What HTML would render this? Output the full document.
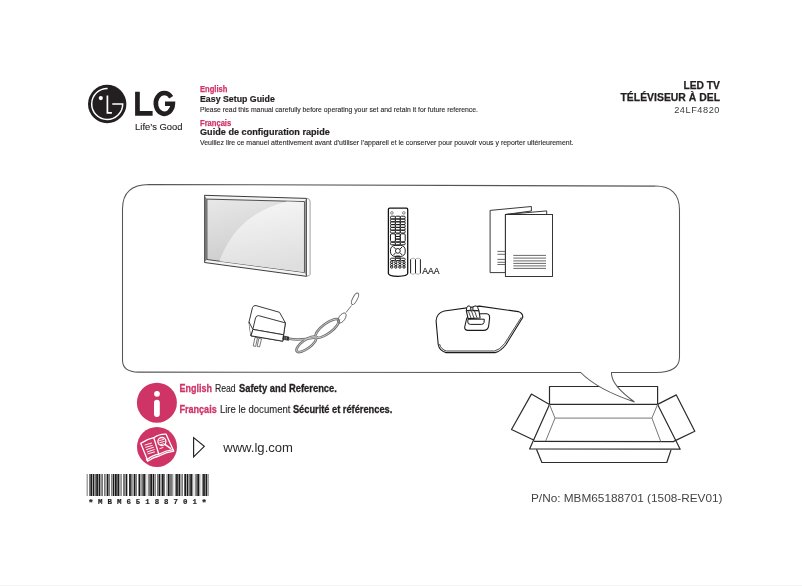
<!DOCTYPE html>
<html><head><meta charset="utf-8">
<style>
html,body{margin:0;padding:0;background:#fff;width:802px;height:586px;overflow:hidden}
svg{display:block;position:absolute;left:0;top:0;will-change:transform}
svg{font-family:"Liberation Sans",sans-serif}
</style></head><body>
<svg width="802" height="586" viewBox="0 0 802 586">
<rect x="0" y="585" width="802" height="1" fill="#f1f2f2"/>
<!-- LG logo -->
<g id="logo">
<circle cx="107.2" cy="104" r="19.2" fill="#231f20"/>
<path d="M107.6 88.5 A15.5 15.5 0 1 0 122.7 104 L112.3 104" fill="none" stroke="#fff" stroke-width="1.5"/>
<path d="M107.4 95.4 V112.8 H111.9" fill="none" stroke="#fff" stroke-width="1.7"/>
<circle cx="100.8" cy="98.1" r="2.1" fill="#fff"/>
<path d="M135.1 91.8 H139.8 V111 H152.6 V115.7 H135.1 Z" fill="#231f20"/>
<path d="M171.2 97.2 A8.55 10.35 0 1 0 172.9 103.8 H165" fill="none" stroke="#231f20" stroke-width="4.6" stroke-linejoin="miter"/>
<text x="135.1" y="130.2" font-size="9" fill="#231f20" stroke="#231f20" stroke-width="0.12" textLength="47.4" lengthAdjust="spacingAndGlyphs">Life’s Good</text>
</g>
<!-- header text -->
<text x="200" y="91.85" font-size="8.9" font-weight="bold" fill="#cf3467" stroke="#cf3467" stroke-width="0.25" textLength="27.4" lengthAdjust="spacingAndGlyphs">English</text>
<text x="200" y="101.8" font-size="9.2" font-weight="bold" fill="#231f20" stroke="#231f20" stroke-width="0.2" textLength="74.8" lengthAdjust="spacingAndGlyphs">Easy Setup Guide</text>
<text x="200" y="111.6" font-size="7.1" fill="#231f20" stroke="#231f20" stroke-width="0.1" textLength="278" lengthAdjust="spacingAndGlyphs">Please read this manual carefully before operating your set and retain it for future reference.</text>
<text x="200" y="125.7" font-size="8.9" font-weight="bold" fill="#cf3467" stroke="#cf3467" stroke-width="0.25" textLength="31.2" lengthAdjust="spacingAndGlyphs">Français</text>
<text x="200" y="134.6" font-size="9.2" font-weight="bold" fill="#231f20" stroke="#231f20" stroke-width="0.2" textLength="129.8" lengthAdjust="spacingAndGlyphs">Guide de configuration rapide</text>
<text x="200" y="144.5" font-size="7.1" fill="#231f20" stroke="#231f20" stroke-width="0.1" textLength="373.5" lengthAdjust="spacingAndGlyphs">Veuillez lire ce manuel attentivement avant d’utiliser l’appareil et le conserver pour pouvoir vous y reporter ultérieurement.</text>
<text x="720" y="88.7" font-size="10.3" font-weight="bold" fill="#231f20" stroke="#231f20" stroke-width="0.25" text-anchor="end">LED TV</text>
<text x="620.5" y="100.8" font-size="10.3" font-weight="bold" fill="#231f20" stroke="#231f20" stroke-width="0.25" textLength="99.5" lengthAdjust="spacingAndGlyphs">TÉLÉVISEUR À DEL</text>
<text x="674.2" y="112.7" font-size="8.2" fill="#3a3a3a" letter-spacing="0.5" textLength="45.8" lengthAdjust="spacingAndGlyphs">24LF4820</text>
<!-- box -->
<g fill="none" stroke="#2b2b2b" stroke-width="1.2" stroke-linejoin="round">
<polyline points="549.5,404.4 549.5,386.5 657.6,386.5 657.6,404.4"/>
<line x1="549.5" y1="404.4" x2="657.6" y2="404.4"/>
<polyline points="549.5,404.4 531.4,394.1 511.5,429.5 534.2,440.2"/>
<polyline points="657.6,404.4 676.3,394.9 694.8,431.2 673.7,441.4"/>
<polyline points="549.5,404.4 529.6,448.9 680.2,449.2 657.6,404.4"/>
<line x1="534" y1="441.4" x2="674" y2="441.6"/>
<polyline points="536.5,449.2 541.9,462.5 666.8,462.5 671,450"/>
</g>
<g fill="none" stroke="#777" stroke-width="1">
<polyline points="549.5,404.4 555,418.1 545.7,441"/>
<polyline points="657.6,404.4 651.9,418.1 660.7,441.4"/>
<line x1="555" y1="418.1" x2="651.9" y2="418.1"/>
</g>
<!-- bubble -->
<path d="M149 184.4 L655 186.1 Q679.5 186 679.5 210 L679.5 357 Q679.5 372.5 656 372.5 L611.5 372.5 Q610.7 385 634.5 402 C608 393 590 382 580.7 372.5 L138.5 372.1 Q122.5 372.1 122.5 360 L122.5 209 Q122.5 184.4 149 184.4 Z" fill="#fff" stroke="#555" stroke-width="1.05"/>
<!-- TV -->
<defs>
<linearGradient id="scrL" x1="0" y1="0" x2="0.3" y2="1">
<stop offset="0" stop-color="#e8e8e8"/><stop offset="1" stop-color="#c9c9c9"/>
</linearGradient>
<linearGradient id="scrR" x1="0.3" y1="0" x2="0.5" y2="1">
<stop offset="0" stop-color="#f6f6f6"/><stop offset="1" stop-color="#dedede"/>
</linearGradient>
</defs>
<path d="M306.4 198.4 L308 198.7 Q310.1 199.3 310.1 201.5 L310.1 274.3 Q310 275.9 306.4 276.3 Z" fill="#fbfbfb" stroke="#888" stroke-width="0.8"/>
<path d="M204.5 195.3 L306.4 198.4 L306.4 276.3 L204.5 262.5 Z" fill="#f4f4f4" stroke="#333" stroke-width="0.95"/>
<path d="M304.3 201.5 L306.2 199 L306.2 275.6 L304.3 272.4 Z" fill="#9a9a9a" stroke="none"/>
<path d="M206.9 199.1 L304.3 201.6 L304.3 272.4 L206.9 259.5 Z" fill="url(#scrL)" stroke="#3c3c3c" stroke-width="0.9"/>
<path d="M287 201.4 Q236 214 219.5 261.2 L303.9 272.2 L303.9 201.9 Z" fill="url(#scrR)"/>
<path d="M204.5 195.6 L206.9 199.1 L206.9 259.5 L204.5 262.2 Z" fill="#777" stroke="none"/>
<!-- remote -->
<path d="M388.4 209.2 Q388.4 208.2 389.6 208.2 L406.5 208.2 Q407.7 208.2 407.7 209.4 L407.7 273.5 Q407.6 275.9 398 276.4 Q388.4 275.9 388.4 273.5 Z" fill="#fff" stroke="#151515" stroke-width="1.3"/>
<g fill="none" stroke="#151515" stroke-width="0.95">
<circle cx="391.9" cy="212.9" r="1.3" stroke="#777"/><circle cx="403.8" cy="212.9" r="1.3" stroke="#777"/>
<rect x="390.5" y="216.2" width="4.9" height="2.8" rx="1.1"/>
<rect x="395.4" y="216.2" width="4.9" height="2.8" rx="1.1"/>
<rect x="400.3" y="216.2" width="4.9" height="2.8" rx="1.1"/>
<rect x="390.5" y="219.0" width="4.9" height="2.8" rx="1.1"/>
<rect x="395.4" y="219.0" width="4.9" height="2.8" rx="1.1"/>
<rect x="400.3" y="219.0" width="4.9" height="2.8" rx="1.1"/>
<rect x="390.5" y="221.8" width="4.9" height="2.8" rx="1.1"/>
<rect x="395.4" y="221.8" width="4.9" height="2.8" rx="1.1"/>
<rect x="400.3" y="221.8" width="4.9" height="2.8" rx="1.1"/>
<rect x="390.5" y="224.6" width="4.9" height="2.8" rx="1.1"/>
<rect x="395.4" y="224.6" width="4.9" height="2.8" rx="1.1"/>
<rect x="400.3" y="224.6" width="4.9" height="2.8" rx="1.1"/>
<rect x="390.5" y="227.4" width="4.9" height="2.8" rx="1.1"/>
<rect x="395.4" y="227.4" width="4.9" height="2.8" rx="1.1"/>
<rect x="400.3" y="227.4" width="4.9" height="2.8" rx="1.1"/>
<rect x="390.5" y="230.2" width="4.9" height="2.8" rx="1.1"/>
<rect x="395.4" y="230.2" width="4.9" height="2.8" rx="1.1"/>
<rect x="400.3" y="230.2" width="4.9" height="2.8" rx="1.1"/>
<rect x="390.5" y="233.8" width="4.9" height="8" rx="1.2"/>
<rect x="400.3" y="233.8" width="4.9" height="8" rx="1.2"/>
<rect x="395.4" y="233.8" width="4.9" height="2.65" rx="1"/>
<rect x="395.4" y="236.5" width="4.9" height="2.65" rx="1"/>
<rect x="395.4" y="239.1" width="4.9" height="2.65" rx="1"/>
<rect x="390.5" y="242.3" width="4.9" height="2.5" rx="1"/>
<rect x="395.4" y="242.3" width="4.9" height="2.5" rx="1"/>
<rect x="400.3" y="242.3" width="4.9" height="2.5" rx="1"/>
<rect x="390.5" y="245.4" width="14.7" height="11" rx="4.5"/>
<circle cx="397.85" cy="250.9" r="2.4"/>
<path d="M393.5 246.8 L395.6 249 M402.2 246.8 L400.1 249 M393.5 255 L395.6 252.8 M402.2 255 L400.1 252.8"/>
<rect x="395.4" y="256.1" width="4.9" height="2" rx="0.9"/>
<rect x="390.5" y="258.2" width="4.9" height="2.3" rx="1"/>
<rect x="395.4" y="258.2" width="4.9" height="2.3" rx="1"/>
<rect x="400.3" y="258.2" width="4.9" height="2.3" rx="1"/>
<circle cx="391.7" cy="262.2" r="1.2"/>
<circle cx="395.8" cy="262.2" r="1.2"/>
<circle cx="399.9" cy="262.2" r="1.2"/>
<circle cx="404.0" cy="262.2" r="1.2"/>
<circle cx="391.7" cy="264.6" r="1.2"/>
<circle cx="395.8" cy="264.6" r="1.2"/>
<circle cx="399.9" cy="264.6" r="1.2"/>
<circle cx="404.0" cy="264.6" r="1.2"/>
<circle cx="391.7" cy="267.0" r="1.2"/>
<circle cx="395.8" cy="267.0" r="1.2"/>
<circle cx="399.9" cy="267.0" r="1.2"/>
<circle cx="404.0" cy="267.0" r="1.2"/>
</g>
<!-- batteries -->
<g fill="none" stroke-width="0.9">
<path d="M410.6 259.5 Q411 258.2 413 258.2 Q415 258.2 415.4 259.5 Q415.8 258.2 418 258.2 Q420 258.2 420.4 259.5" stroke="#aaa"/>
<path d="M410.6 273 Q411 274.2 413 274.2 Q415 274.2 415.4 273 Q415.8 274.2 418 274.2 Q420 274.2 420.4 273" stroke="#aaa"/>
<path d="M410.6 259.3 V273.2 M415.5 259.3 V273.2 M420.4 259.3 V273.2" stroke="#222" stroke-width="1"/>
</g>
<text x="422.2" y="273.7" font-size="9.6" fill="#231f20" stroke="#231f20" stroke-width="0.2" textLength="17.2" lengthAdjust="spacingAndGlyphs">AAA</text>
<!-- booklets -->
<g fill="#fff" stroke="#222" stroke-width="0.9" stroke-linejoin="miter">
<path d="M490.1 210.4 L531.4 206.5 L531.4 211 L505.4 214.5 L505.4 272.6 L490.1 272.6 Z"/>
<path d="M505.4 214.5 L546.7 210.9 L546.7 214.5 Z"/>
<rect x="505.4" y="214.5" width="47.1" height="62"/>
</g>
<g stroke="#444" stroke-width="0.8">
<line x1="497.4" y1="251.4" x2="505.4" y2="251.4"/>
<line x1="497.4" y1="254.3" x2="505.4" y2="254.3"/>
<line x1="497.4" y1="259.4" x2="505.4" y2="259.4"/>
<line x1="497.4" y1="262.3" x2="505.4" y2="262.3"/>
<line x1="497.4" y1="264.5" x2="505.4" y2="264.5"/>
<line x1="513.3" y1="255.4" x2="546" y2="255.4"/>
<line x1="513.3" y1="258.1" x2="546" y2="258.1"/>
<line x1="513.3" y1="260.9" x2="546" y2="260.9"/>
<line x1="513.3" y1="263.4" x2="546" y2="263.4"/>
<line x1="513.3" y1="265.9" x2="546" y2="265.9"/>
<line x1="513.3" y1="268.4" x2="546" y2="268.4"/>
</g>
<!-- adapter -->
<g fill="#fff" stroke="#222" stroke-width="0.9" stroke-linejoin="round">
<path d="M255 337.4 L257.5 337.9 L255.6 346.4 L253.2 345.9 Z M258.8 338.3 L261.5 338.8 L259.6 346.9 L257.2 346.4 Z" stroke="#555" stroke-width="0.8"/>
<path d="M249 322 L252.5 307.5 Q253.5 305 256 305.6 L279.5 312.3 L285.4 322.9 L283.6 334.8 L282.8 341.2 L250.9 335.8 Z"/>
<path d="M255.5 318 Q256.2 315.6 258.5 315.6 L285.4 322.9 L283.6 334.8 L252.8 329.4 Z"/>
<path d="M252.8 329.4 L283.6 334.8 L282.8 341.2 L250.9 335.8 Z"/>
<path d="M249 322 L252.8 329.4 L250.9 335.8"/>
<path d="M283.4 336 L289 337.2 L288.6 340.2 L282.9 339.3 Z" fill="#333"/>
<path d="M285 336.5 L284.6 339.6 M286.6 336.8 L286.2 339.9" stroke="#bbb" stroke-width="0.5"/>
</g>
<!-- cord -->
<g fill="none" stroke="#707070" stroke-width="2.6">
<path d="M289 338.8 C296 340, 303 340, 315 337.5"/>
<ellipse cx="327.2" cy="328.4" rx="14" ry="4.9" transform="rotate(-37 327.2 328.4)"/>
<ellipse cx="306.3" cy="344.3" rx="11.8" ry="4.3" transform="rotate(-36 306.3 344.3)"/>
</g>
<g fill="none" stroke="#d4d4d4" stroke-width="0.8">
<path d="M289 338.8 C296 340, 303 340, 315 337.5"/>
<ellipse cx="327.2" cy="328.4" rx="14" ry="4.9" transform="rotate(-37 327.2 328.4)"/>
<ellipse cx="306.3" cy="344.3" rx="11.8" ry="4.3" transform="rotate(-36 306.3 344.3)"/>
</g>
<g fill="none" stroke="#666" stroke-width="0.9">
<path d="M338.5 321.2 L340 319.5 M346 312.5 L351.5 305.5"/>
<ellipse cx="342" cy="318" rx="5.8" ry="3" transform="rotate(-55 342 318)"/>
<ellipse cx="355" cy="298.8" rx="6.3" ry="2.3" transform="rotate(-62 355 298.8)"/>
</g>
<!-- stand -->
<g fill="#fff" stroke="#1a1a1a" stroke-linejoin="round">
<path d="M444.3 311 L479.4 306.1 L518.2 311.6 Q523.3 313.5 522.7 317.5 L506 344.5 Q500.5 351.6 495 352.6 L446 352.6 Q439.5 351 438.2 344.5 L436.1 321 Q436.5 313 444.3 311 Z" stroke-width="1.1"/>
<path d="M521.3 317.3 L504.6 343.6 Q499.5 350.2 494.5 351 L446.5 351 Q441 349.6 439.5 344" stroke-width="0.8" fill="none"/>
<path d="M466.8 318 L480.8 313.7 L486.8 313.7 Q489.8 314 489.6 318 L488.7 325.8 Q488 330.4 483.5 330.4 L468 330.4 Q464.5 330.3 464.7 327 Z" stroke-width="1.1"/>
<path d="M468 319.2 L484.3 319.2 L484 322.6 Q483.5 324.4 481.5 324.4 L470.5 324.4 Q467.6 324.3 467.8 322 Z" stroke-width="1"/>
<path d="M466.3 310.7 L468.1 318.6 L480.1 318 L478.9 310.7 Z" stroke-width="1.1"/>
<path d="M468.5 311.5 L471 318 M471.5 311.2 L474 318 M474.5 311 L477 317.8" stroke-width="0.8"/>
<path d="M466.3 310.7 L466.9 307 Q467.5 305.8 469.5 305.9 Q470.6 306.3 471.1 310.1 Z" stroke-width="1"/>
<path d="M472.9 310.3 L472.9 307.2 Q473.5 305.9 476.3 305.9 Q477.6 306.2 478.9 310.7 Z" stroke-width="1"/>
</g>
<!-- info -->
<circle cx="156.9" cy="402.7" r="20" fill="#cf3467"/>
<circle cx="157" cy="393.8" r="2.9" fill="#fff"/>
<line x1="156.9" y1="402.6" x2="156.9" y2="414" stroke="#fff" stroke-width="5.8" stroke-linecap="round"/>
<circle cx="157" cy="446.9" r="20" fill="#cf3467"/>
<g fill="none" stroke="#fff" stroke-width="1.3" stroke-linejoin="round" stroke-linecap="round">
<path d="M140.8 443.4 Q147 439 153.8 437.7 L158.8 454.2 Q152 455.5 147.3 459.6 Z"/>
<path d="M153.8 437.7 Q159.5 433.8 166.1 434.2 L173 449.6 Q165.5 450.5 158.8 454.2"/>
<path d="M146.3 459 L147.6 461.2 Q152.5 457.4 159 456 Q165.8 452.2 173.8 451.2 L173 449.6"/>
<path d="M145 445 L151.5 443.1 M145.8 447.3 L152.3 445.4 M146.5 449.6 L153.4 447.3 M147.3 451.9 L154.2 449.6 M148 453.8 L154.6 451.9" stroke-width="0.95"/>
<circle cx="161.9" cy="441.5" r="4"/>
<path d="M164.9 444.4 L170.5 448.4" stroke-width="1.5"/>
<path d="M159.6 440.6 L163.6 439.4 M159.8 442.7 L164.3 441.4 M160.6 444.6 L163.4 443.8 M159.9 448.6 L163 447.5" stroke-width="0.9"/>
</g>
<g font-size="10.5" fill="#231f20" lengthAdjust="spacingAndGlyphs">
<text x="179.5" y="391.8" font-weight="bold" fill="#cf3467" stroke="#cf3467" stroke-width="0.3" textLength="32.4" lengthAdjust="spacingAndGlyphs">English</text>
<text x="214.9" y="391.8" stroke="#231f20" stroke-width="0.12" textLength="20.8" lengthAdjust="spacingAndGlyphs">Read</text>
<text x="239" y="391.8" font-weight="bold" stroke="#231f20" stroke-width="0.3" textLength="97.9" lengthAdjust="spacingAndGlyphs">Safety and Reference.</text>
<text x="179.5" y="413.4" font-weight="bold" fill="#cf3467" stroke="#cf3467" stroke-width="0.3" textLength="37.2" lengthAdjust="spacingAndGlyphs">Français</text>
<text x="219.9" y="413.4" stroke="#231f20" stroke-width="0.12" textLength="70.5" lengthAdjust="spacingAndGlyphs">Lire le document</text>
<text x="292.9" y="413.4" font-weight="bold" stroke="#231f20" stroke-width="0.3" textLength="99.4" lengthAdjust="spacingAndGlyphs">Sécurité et références.</text>
</g>
<path d="M193.6 437.6 V456.8 L204.3 446.4 Z" fill="none" stroke="#231f20" stroke-width="1.15" stroke-linejoin="miter" stroke-miterlimit="10"/>
<text x="223.2" y="452.2" font-size="13" fill="#2a2a2a" textLength="69.8" lengthAdjust="spacingAndGlyphs">www.lg.com</text>
<!-- barcode -->
<g fill="#1a1a1a">
<rect x="86.80" y="474" width="0.59" height="22"/>
<rect x="89.15" y="474" width="0.59" height="22"/>
<rect x="90.32" y="474" width="1.76" height="22"/>
<rect x="92.67" y="474" width="1.76" height="22"/>
<rect x="95.02" y="474" width="0.59" height="22"/>
<rect x="96.20" y="474" width="1.76" height="22"/>
<rect x="98.55" y="474" width="1.76" height="22"/>
<rect x="100.90" y="474" width="0.59" height="22"/>
<rect x="102.07" y="474" width="0.59" height="22"/>
<rect x="104.42" y="474" width="0.59" height="22"/>
<rect x="105.60" y="474" width="0.59" height="22"/>
<rect x="106.77" y="474" width="1.76" height="22"/>
<rect x="109.12" y="474" width="0.59" height="22"/>
<rect x="111.47" y="474" width="0.59" height="22"/>
<rect x="112.65" y="474" width="1.76" height="22"/>
<rect x="115.00" y="474" width="1.76" height="22"/>
<rect x="117.35" y="474" width="1.76" height="22"/>
<rect x="119.70" y="474" width="0.59" height="22"/>
<rect x="120.87" y="474" width="0.59" height="22"/>
<rect x="123.22" y="474" width="0.59" height="22"/>
<rect x="124.40" y="474" width="0.59" height="22"/>
<rect x="125.57" y="474" width="1.76" height="22"/>
<rect x="129.10" y="474" width="1.76" height="22"/>
<rect x="131.45" y="474" width="0.59" height="22"/>
<rect x="132.62" y="474" width="0.59" height="22"/>
<rect x="133.80" y="474" width="1.76" height="22"/>
<rect x="136.14" y="474" width="0.59" height="22"/>
<rect x="138.49" y="474" width="1.76" height="22"/>
<rect x="140.84" y="474" width="0.59" height="22"/>
<rect x="142.02" y="474" width="0.59" height="22"/>
<rect x="143.19" y="474" width="1.76" height="22"/>
<rect x="145.54" y="474" width="0.59" height="22"/>
<rect x="147.89" y="474" width="0.59" height="22"/>
<rect x="149.07" y="474" width="0.59" height="22"/>
<rect x="150.24" y="474" width="1.76" height="22"/>
<rect x="152.59" y="474" width="1.76" height="22"/>
<rect x="154.94" y="474" width="0.59" height="22"/>
<rect x="157.29" y="474" width="0.59" height="22"/>
<rect x="158.47" y="474" width="1.76" height="22"/>
<rect x="160.82" y="474" width="0.59" height="22"/>
<rect x="161.99" y="474" width="1.76" height="22"/>
<rect x="164.34" y="474" width="0.59" height="22"/>
<rect x="166.69" y="474" width="0.59" height="22"/>
<rect x="167.87" y="474" width="1.76" height="22"/>
<rect x="170.22" y="474" width="0.59" height="22"/>
<rect x="171.39" y="474" width="0.59" height="22"/>
<rect x="172.57" y="474" width="0.59" height="22"/>
<rect x="174.92" y="474" width="0.59" height="22"/>
<rect x="176.09" y="474" width="1.76" height="22"/>
<rect x="178.44" y="474" width="1.76" height="22"/>
<rect x="180.79" y="474" width="0.59" height="22"/>
<rect x="181.97" y="474" width="0.59" height="22"/>
<rect x="184.31" y="474" width="1.76" height="22"/>
<rect x="186.66" y="474" width="1.76" height="22"/>
<rect x="189.01" y="474" width="0.59" height="22"/>
<rect x="190.19" y="474" width="1.76" height="22"/>
<rect x="192.54" y="474" width="0.59" height="22"/>
<rect x="194.89" y="474" width="0.59" height="22"/>
<rect x="196.06" y="474" width="0.59" height="22"/>
<rect x="197.24" y="474" width="1.76" height="22"/>
<rect x="199.59" y="474" width="0.59" height="22"/>
<rect x="201.94" y="474" width="0.59" height="22"/>
<rect x="203.11" y="474" width="1.76" height="22"/>
<rect x="205.46" y="474" width="1.76" height="22"/>
<rect x="207.81" y="474" width="0.59" height="22"/>
</g>
<g style="font-family:'Liberation Mono',monospace" font-size="7.4" font-weight="bold" fill="#231f20" stroke="#231f20" stroke-width="0.2">
<text x="90.90" y="505.6" font-size="9.5" text-anchor="middle">*</text>
<text x="100.33" y="504.2" text-anchor="middle">M</text>
<text x="109.76" y="504.2" text-anchor="middle">B</text>
<text x="119.19" y="504.2" text-anchor="middle">M</text>
<text x="128.62" y="504.2" text-anchor="middle">6</text>
<text x="138.05" y="504.2" text-anchor="middle">5</text>
<text x="147.48" y="504.2" text-anchor="middle">1</text>
<text x="156.91" y="504.2" text-anchor="middle">8</text>
<text x="166.34" y="504.2" text-anchor="middle">8</text>
<text x="175.77" y="504.2" text-anchor="middle">7</text>
<text x="185.20" y="504.2" text-anchor="middle">0</text>
<text x="194.63" y="504.2" text-anchor="middle">1</text>
<text x="204.06" y="505.6" font-size="9.5" text-anchor="middle">*</text>
</g>
<text x="531" y="501.8" font-size="10" fill="#444" textLength="191.5" lengthAdjust="spacingAndGlyphs">P/No: MBM65188701 (1508-REV01)</text>
</svg>
</body></html>
